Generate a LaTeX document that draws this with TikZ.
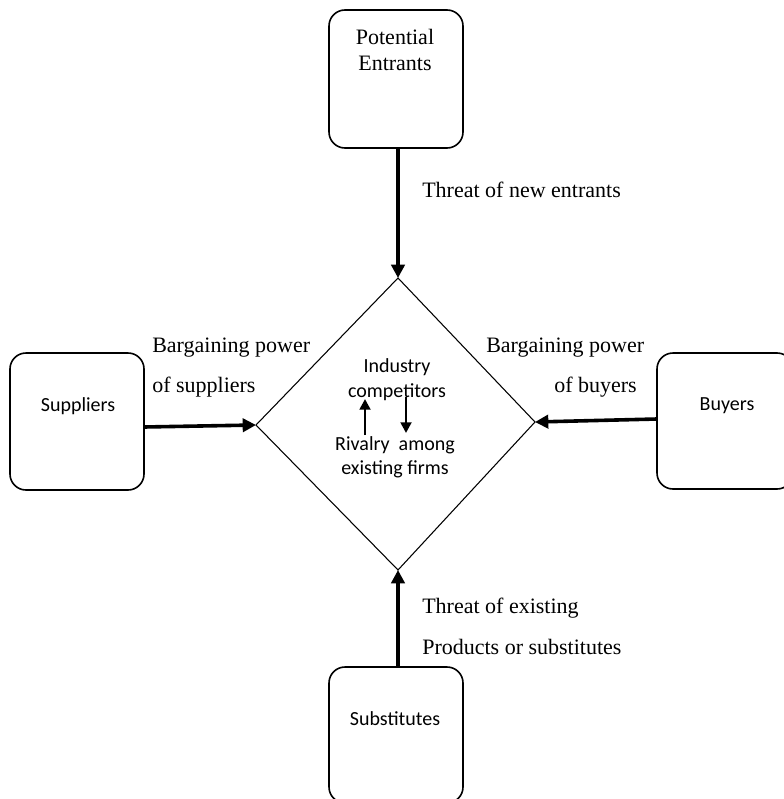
\documentclass[tikz,border=0pt]{standalone}
\usepackage{fontspec}
\setmainfont{Liberation Serif}
\newfontfamily\calib{Carlito}
\usetikzlibrary{arrows.meta}
\begin{document}
\begin{tikzpicture}[x=0.75pt,y=-0.75pt,
  force/.style={draw, line width=1.2pt, rounded corners=12pt, minimum width=134*0.75pt, inner sep=0pt, outer sep=0pt},
  serif/.style={font=\fontsize{16.5}{19}\selectfont, inner sep=0pt, anchor=west},
  sans/.style={font=\calib\fontsize{15}{18}\selectfont, inner sep=0pt},
  bigarrow/.style={line width=2.7pt, -{Triangle[length=10pt,width=10pt]}},
  smallarrow/.style={line width=2.1pt, -{Triangle[length=8pt,width=8pt]}}]
\useasboundingbox (0,0) rectangle (783,799);
\fill[white] (0,0) rectangle (783,799);

% boxes
\node[force, minimum height=138*0.75pt] (ent) at (396,79) {};
\node[force, minimum height=137*0.75pt] (sup) at (77,421.5) {};
\node[force, minimum height=136*0.75pt, minimum width=136*0.75pt] (buy) at (725,421) {};
\node[force, minimum height=136*0.75pt] (subs) at (396,735) {};

% diamond
\draw[line width=0.8pt] (398,278) coordinate (dn) -- (535,422) coordinate (de)
  -- (398,570) coordinate (ds) -- (256,425) coordinate (dw) -- cycle;

% box texts
\node[serif, anchor=center] (entT) at (395,37) {Potential};
\node[serif, anchor=center] (entT2) at (395,63) {Entrants};
\node[sans] (supT) at (78,406) {Suppliers};
\node[sans] (buyT) at (727,406) {Buyers};
\node[sans] (subT) at (395,719) {Substitutes};

% arrows
\draw[bigarrow] (ent.south -| dn) -- (dn);
\draw[bigarrow] (sup.east |- 0,427) -- (dw);
\draw[bigarrow] (buy.west |- 0,419) -- (de);
\draw[bigarrow] (subs.north -| ds) -- (ds);

% labels
\node[serif] (l1) at (422,190) {Threat of new entrants};
\node[serif] (l2) at (152,348) {Bargaining power};
\node[serif] (l3) at (152,387) {of suppliers};
\node[serif] (l4) at (486,348) {Bargaining power};
\node[serif] (l5) at (554,387) {of buyers};
\node[serif] (l6) at (422,608) {Threat of existing};
\node[serif] (l7) at (422,647) {Products or substitutes};

% centre
\node[sans] (c1) at (397,367) {Industry};
\node[sans] (c2) at (397,392) {competitors};
\node[sans] (c3) at (395,445) {Rivalry\ \ among};
\node[sans] (c4) at (395,469) {existing firms};
\coordinate (ua) at (365,435);
\coordinate (ub) at (365,399);
\coordinate (da) at (406,397);
\coordinate (db) at (406,433);
\draw[smallarrow] (ua) -- (ub);
\draw[smallarrow] (da) -- (db);
\end{tikzpicture}
\end{document}
